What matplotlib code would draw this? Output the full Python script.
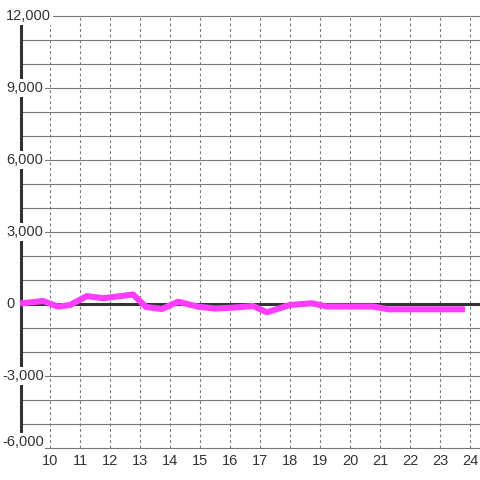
import matplotlib
matplotlib.use("Agg")
import matplotlib.pyplot as plt

# 時間（小時）與數值
hours = [9.0, 9.77, 10.27, 10.67, 11.23, 11.77, 12.77, 13.2, 13.73, 14.27, 14.93,
         15.5, 16.17, 16.77, 17.23, 18.0, 18.73, 19.23, 20.77, 21.27, 23.83]
values = [20, 125, -110, -40, 330, 240, 395, -125, -210, 95, -110,
          -190, -145, -85, -345, -40, 30, -105, -105, -220, -220]

x_ticks = list(range(10, 25))
y_labels = list(range(-6000, 12001, 3000))
y_grid = list(range(-6000, 12001, 1000))
y_min, y_max = -6000, 12000

plt.rcParams["font.family"] = ["Liberation Sans", "DejaVu Sans"]

fig = plt.figure(figsize=(4.8, 4.8), dpi=100)
ax = fig.add_axes([0, 0, 1, 1])
ax.set_axis_off()

# 畫布座標：每小時 30 px，每 1000 為 24 px
x_left, x_right = 8.3333, 24.3333
ax.set_xlim(x_left, x_right)
ax.set_ylim(-7333.3, 12666.7)
x_spine = 9.0333

# 網格
ax.hlines(y_grid, x_spine, x_right, color="#777777", lw=0.8, zorder=1)
ax.vlines(x_ticks, y_min, y_max, color="#777777", lw=0.8,
          linestyles=(0, (2.5, 2.5)), zorder=1)

# 零線與左軸
ax.hlines(0, x_spine, x_right, color="#333333", lw=2.2, zorder=2)
ax.vlines(x_spine, y_min, y_max, color="#333333", lw=2.2, zorder=2)

# 數據線
ax.plot(hours, values, color="#ff3cff", lw=4.4, solid_joinstyle="round",
        solid_capstyle="butt", zorder=3)

# Y 軸標籤（白底蓋住軸線）
for v in y_labels:
    px = 6 if v >= 0 else 2
    dy = 6 * 0.72 if v == y_min else 0
    ax.annotate(f"{v:,}", xy=(x_left + px / 30, v), xytext=(0, dy),
                textcoords="offset points", ha="left", va="center",
                fontsize=10.5, color="#333333", zorder=5,
                bbox=dict(boxstyle="square,pad=0.12", fc="white", ec="none"))

# X 軸標籤
for h in x_ticks:
    ax.annotate(str(h), xy=(h, y_min), xytext=(0, -13 * 0.72),
                textcoords="offset points", ha="center", va="center",
                fontsize=10.5, color="#333333", zorder=5)

fig.savefig("out.png", dpi=100, facecolor="white")
